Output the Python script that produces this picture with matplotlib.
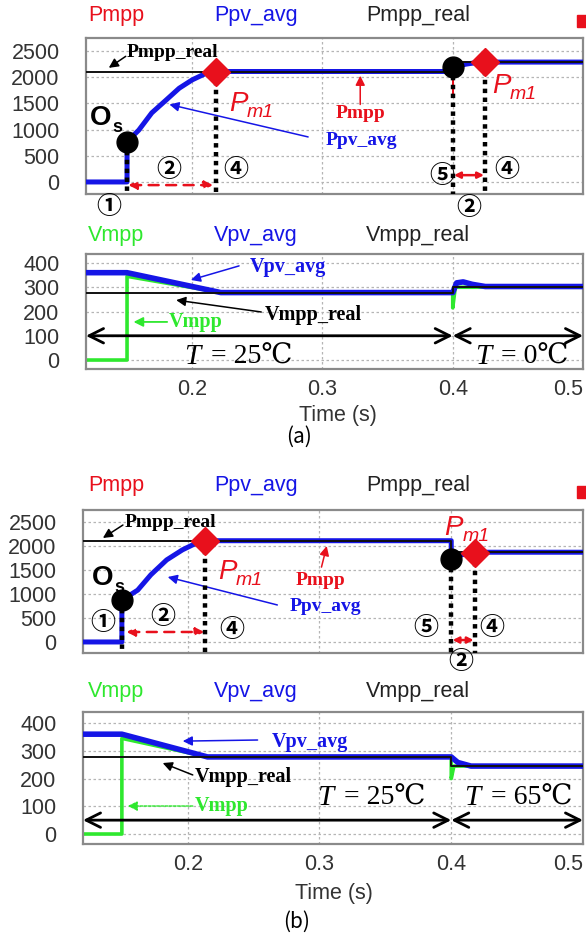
import matplotlib
matplotlib.use("Agg")
import matplotlib.pyplot as plt
from matplotlib.patches import Rectangle

plt.rcParams['font.family'] = ['Liberation Sans', 'DejaVu Sans']

W, H = 586, 935

# --- panel (a): 25 C -> 0 C ---
A_T_PPV = [0.118, 0.150, 0.150, 0.159, 0.169, 0.180, 0.190, 0.200, 0.211, 0.218,
           0.400, 0.400, 0.410, 0.418, 0.425, 0.500]
A_PPV = [0, 0, 770, 990, 1320, 1565, 1790, 1950, 2080, 2110,
         2110, 2190, 2250, 2280, 2290, 2290]
A_T_PREAL = [0.118, 0.400, 0.400, 0.500]
A_PREAL = [2110, 2110, 2290, 2290]
A_T_PMPP = [0.150, 0.400, 0.400, 0.400, 0.500]
A_PMPP = [2110, 2110, 1650, 2290, 2290]
A_T_VPV = [0.118, 0.150, 0.222, 0.400, 0.403, 0.408, 0.415, 0.425, 0.500]
A_VPV = [360, 360, 278, 278, 318, 322, 312, 303, 303]
A_T_VREAL = [0.118, 0.400, 0.400, 0.500]
A_VREAL = [278, 278, 300, 300]
A_T_VMPP = [0.118, 0.150, 0.150, 0.222, 0.400, 0.400, 0.402, 0.500]
A_VMPP = [0, 0, 345, 278, 278, 215, 300, 300]
A_OS = (0.150, 770)
A_PM1 = (0.218, 2110)
A_OS2 = (0.400, 2190)
A_PM2 = (0.425, 2290)

# --- panel (b): 25 C -> 65 C ---
B_T_PPV = [0.120, 0.150, 0.150, 0.162, 0.172, 0.184, 0.196, 0.205, 0.213,
           0.400, 0.400, 0.405, 0.410, 0.418, 0.500]
B_PPV = [0, 0, 870, 1080, 1400, 1710, 1920, 2040, 2110,
         2110, 1730, 1790, 1830, 1870, 1870]
B_T_PREAL = [0.120, 0.400, 0.400, 0.500]
B_PREAL = [2110, 2110, 1870, 1870]
B_T_PMPP = [0.150, 0.400, 0.400, 0.500]
B_PMPP = [2110, 2110, 1870, 1870]
B_T_VPV = [0.120, 0.150, 0.215, 0.400, 0.405, 0.415, 0.500]
B_VPV = [360, 360, 278, 278, 258, 245, 245]
B_T_VREAL = [0.120, 0.400, 0.400, 0.500]
B_VREAL = [278, 278, 245, 245]
B_T_VMPP = [0.120, 0.150, 0.150, 0.215, 0.400, 0.400, 0.402, 0.500]
B_VMPP = [0, 0, 345, 278, 278, 200, 245, 245]
B_OS = (0.150, 870)
B_PM1 = (0.213, 2110)
B_OS2 = (0.400, 1730)
B_PM2 = (0.418, 1860)

P_TICKS = [0, 500, 1000, 1500, 2000, 2500]
V_TICKS = [0, 100, 200, 300, 400]
T_TICKS = [0.2, 0.3, 0.4, 0.5]

RED = '#e8101c'
BLUE = '#1515e6'
GREEN = '#2ee82e'
SERIF = 'Liberation Serif'
CIRC = 'Noto Sans CJK JP'
TFONT = ['Liberation Serif', 'DejaVu Serif', 'Noto Sans CJK JP']

fig = plt.figure(figsize=(W / 100, H / 100), dpi=100)


def add_ax(l, t, r, b, yticks, ylim, xlim, show_x):
    ax = fig.add_axes([l / W, 1 - b / H, (r - l) / W, (b - t) / H])
    ax.set_xlim(*xlim)
    ax.set_ylim(*ylim)
    ax.set_yticks(yticks)
    ax.set_xticks(T_TICKS)
    ax.tick_params(length=0, labelsize=15.5, colors='#333333')
    ax.tick_params(axis='y', pad=19)
    ax.tick_params(axis='x', pad=7)
    if not show_x:
        ax.set_xticklabels([])
    else:
        ax.get_xticklabels()[-1].set_horizontalalignment('right')
    ax.grid(True, color='#b5b5b5', linestyle=(0, (2, 2)), lw=0.9)
    for s in ax.spines.values():
        s.set_color('#8a8a8a')
        s.set_linewidth(1.6)
    return ax


def header(y, names, colors):
    for x, n, c in zip([88, 214, 366], names, colors):
        fig.text(x / W, 1 - y / H, n, color=c, fontsize=15.5, ha='left', va='center')


def arrow(ax, tail, head, color, lw=1.1, style='-|>', ms=14, ls='-'):
    ax.annotate('', xy=head, xytext=tail,
                arrowprops=dict(arrowstyle=style, color=color, lw=lw, mutation_scale=ms,
                                shrinkA=0, shrinkB=0, linestyle=ls))


def circ(ax, t, v, s):
    ax.text(t, v, s, fontsize=18, family=CIRC, fontweight='bold',
            ha='center', va='center', clip_on=False)


def pm1(ax, t, v):
    ax.annotate('P', (t, v), color=RED, fontsize=20, style='italic', ha='left', va='center')
    ax.annotate('m1', (t, v), xytext=(13, -6), textcoords='offset points', color=RED,
                fontsize=14, style='italic', ha='left', va='center')


def os_label(ax, t, v):
    ax.annotate('O', (t, v), fontsize=20, fontweight='bold', ha='center', va='center')
    ax.annotate('s', (t, v), xytext=(12, -7), textcoords='offset points',
                fontsize=13, fontweight='bold', ha='center', va='center')


def temp_label(ax, t, v, rest):
    ax.annotate('T', (t, v), family=SERIF, style='italic', fontsize=21,
                ha='left', va='center')
    ax.annotate(rest, (t, v), xytext=(19, 0), textcoords='offset points',
                family=TFONT, fontsize=20, ha='left', va='center')


def power_panel(ax, tp, pv, tr, pr, tm, pm, os1, m1, os2, m2):
    ax.plot(tm, pm, color=RED, lw=1.2, zorder=2)
    ax.plot(tp, pv, color=BLUE, lw=3.6, zorder=3, solid_capstyle='butt')
    ax.plot(tr, pr, color='#111111', lw=1.4, zorder=4)
    y0 = ax.get_ylim()[0]
    for pt in (os1, m1, os2, m2):
        ax.plot([pt[0], pt[0]], [pt[1], y0], color='k', lw=3.2,
                linestyle=(0, (1, 1)), zorder=5, clip_on=False)
    for pt in (os1, os2):
        ax.plot(*pt, 'o', color='k', ms=15, zorder=6)
    for pt in (m1, m2):
        ax.plot(*pt, 'D', color=RED, ms=14, zorder=6)


def volt_panel(ax, tv, vv, tr, vr, tm, vm):
    ax.plot(tm, vm, color=GREEN, lw=2.6, zorder=2)
    ax.plot(tv, vv, color=BLUE, lw=4.0, zorder=3)
    ax.plot(tr, vr, color='#111111', lw=1.4, zorder=4)


# ================= (a) =================
XA = (0.1185, 0.5)
ax1 = add_ax(86, 38, 583, 194, P_TICKS, (-230, 2750), XA, False)
power_panel(ax1, A_T_PPV, A_PPV, A_T_PREAL, A_PREAL, A_T_PMPP, A_PMPP,
            A_OS, A_PM1, A_OS2, A_PM2)
ax1.text(0.150, 2480, 'Pmpp_real', family=SERIF, fontweight='bold', fontsize=14,
         ha='left', va='center')
arrow(ax1, (0.149, 2400), (0.136, 2180), 'k')
os_label(ax1, 0.130, 1220)
pm1(ax1, 0.228, 1480)
pm1(ax1, 0.430, 1830)
ax1.text(0.329, 1300, 'Pmpp', family=SERIF, fontweight='bold', fontsize=14,
         color=RED, ha='center', va='center')
arrow(ax1, (0.329, 1480), (0.329, 2030), RED)
ax1.text(0.330, 800, 'Ppv_avg', family=SERIF, fontweight='bold', fontsize=14,
         color=BLUE, ha='center', va='center')
arrow(ax1, (0.289, 860), (0.1825, 1480), BLUE)
arrow(ax1, (0.151, -60), (0.216, -60), RED, lw=1.8, style='<|-|>', ms=12, ls=(0, (4, 3)))
arrow(ax1, (0.401, 130), (0.424, 130), RED, lw=1.8, style='<|-|>', ms=9)
circ(ax1, 0.1362, -476, '①')
circ(ax1, 0.1823, 230, '②')
circ(ax1, 0.2335, 230, '④')
circ(ax1, 0.3915, 115, '⑤')
circ(ax1, 0.4415, 230, '④')
circ(ax1, 0.4123, -495, '②')

ax2 = add_ax(86, 254, 583, 369, V_TICKS, (-37, 437), XA, True)
volt_panel(ax2, A_T_VPV, A_VPV, A_T_VREAL, A_VREAL, A_T_VMPP, A_VMPP)
ax2.text(0.244, 383, 'Vpv_avg', family=SERIF, fontweight='bold', fontsize=14.5,
         color=BLUE, ha='left', va='center')
arrow(ax2, (0.236, 388), (0.199, 330), BLUE)
ax2.text(0.2554, 186, 'Vmpp_real', family=SERIF, fontweight='bold', fontsize=14.5,
         ha='left', va='center')
arrow(ax2, (0.253, 198), (0.1877, 247), 'k')
ax2.text(0.1823, 157, 'Vmpp', family=SERIF, fontweight='bold', fontsize=14.5,
         color=GREEN, ha='left', va='center')
arrow(ax2, (0.1808, 157), (0.155, 157), GREEN, lw=1.3)
arrow(ax2, (0.1185, 100), (0.400, 100), 'k', lw=2.0, style='<->', ms=26)
arrow(ax2, (0.400, 100), (0.500, 100), 'k', lw=2.0, style='<->', ms=26)
temp_label(ax2, 0.194, 14, '= 25℃')
temp_label(ax2, 0.4168, 14, '= 0℃')

header(15, ['Pmpp', 'Ppv_avg', 'Pmpp_real'], [RED, BLUE, '#222222'])
header(236, ['Vmpp', 'Vpv_avg', 'Vmpp_real'], [GREEN, BLUE, '#222222'])
fig.patches.append(Rectangle((577 / W, 1 - 27 / H), 12 / W, 12 / H, color=RED,
                             transform=fig.transFigure, figure=fig))
fig.text(338 / W, 1 - 415 / H, 'Time (s)', fontsize=15.5, color='#333333',
         ha='center', va='center')
fig.text(299 / W, 1 - 437 / H, '(a)', fontsize=15, family='Noto Sans CJK KR',
         ha='center', va='center')

# ================= (b) =================
XB = (0.1205, 0.5)
ax3 = add_ax(83, 510, 583, 653, P_TICKS, (-230, 2750), XB, False)
power_panel(ax3, B_T_PPV, B_PPV, B_T_PREAL, B_PREAL, B_T_PMPP, B_PMPP,
            B_OS, B_PM1, B_OS2, B_PM2)
ax3.text(0.1523, 2480, 'Pmpp_real', family=SERIF, fontweight='bold', fontsize=14,
         ha='left', va='center')
arrow(ax3, (0.1508, 2437), (0.1356, 2167), 'k')
os_label(ax3, 0.1356, 1333)
pm1(ax3, 0.2227, 1458)
pm1(ax3, 0.3947, 2375)
ax3.text(0.3008, 1290, 'Pmpp', family=SERIF, fontweight='bold', fontsize=14,
         color=RED, ha='center', va='center')
arrow(ax3, (0.3015, 1560), (0.3055, 2000), RED)
ax3.text(0.3045, 730, 'Ppv_avg', family=SERIF, fontweight='bold', fontsize=14,
         color=BLUE, ha='center', va='center')
arrow(ax3, (0.268, 771), (0.1848, 1354), BLUE)
arrow(ax3, (0.1535, 208), (0.2125, 208), RED, lw=1.8, style='<|-|>', ms=12, ls=(0, (4, 3)))
arrow(ax3, (0.401, 40), (0.417, 40), RED, lw=1.8, style='<|-|>', ms=9)
circ(ax3, 0.1356, 396, '①')
circ(ax3, 0.181, 521, '②')
circ(ax3, 0.2333, 250, '④')
circ(ax3, 0.381, 292, '⑤')
circ(ax3, 0.431, 292, '④')
circ(ax3, 0.4076, -416, '②')

ax4 = add_ax(83, 712, 583, 844, V_TICKS, (-36, 440), XB, True)
volt_panel(ax4, B_T_VPV, B_VPV, B_T_VREAL, B_VREAL, B_T_VMPP, B_VMPP)
ax4.text(0.2636, 332, 'Vpv_avg', family=SERIF, fontweight='bold', fontsize=14.5,
         color=BLUE, ha='left', va='center')
arrow(ax4, (0.253, 339), (0.1962, 335), BLUE)
ax4.text(0.2053, 205, 'Vmpp_real', family=SERIF, fontweight='bold', fontsize=14.5,
         ha='left', va='center')
arrow(ax4, (0.2038, 213), (0.181, 256), 'k')
ax4.text(0.2053, 101, 'Vmpp', family=SERIF, fontweight='bold', fontsize=14.5,
         color=GREEN, ha='left', va='center')
arrow(ax4, (0.2038, 101), (0.1545, 101), GREEN, lw=1.0, ls=(0, (2, 1)))
arrow(ax4, (0.1205, 50), (0.400, 50), 'k', lw=2.0, style='<->', ms=26)
arrow(ax4, (0.400, 50), (0.500, 50), 'k', lw=2.0, style='<->', ms=26)
temp_label(ax4, 0.2985, 130, '= 25℃')
temp_label(ax4, 0.410, 130, '= 65℃')

header(486, ['Pmpp', 'Ppv_avg', 'Pmpp_real'], [RED, BLUE, '#222222'])
header(691, ['Vmpp', 'Vpv_avg', 'Vmpp_real'], [GREEN, BLUE, '#222222'])
fig.patches.append(Rectangle((577 / W, 1 - 498 / H), 12 / W, 12 / H, color=RED,
                             transform=fig.transFigure, figure=fig))
fig.text(334 / W, 1 - 893 / H, 'Time (s)', fontsize=15.5, color='#333333',
         ha='center', va='center')
fig.text(297 / W, 1 - 922 / H, '(b)', fontsize=15, family='Noto Sans CJK KR',
         ha='center', va='center')

fig.savefig('out.png', dpi=100)
